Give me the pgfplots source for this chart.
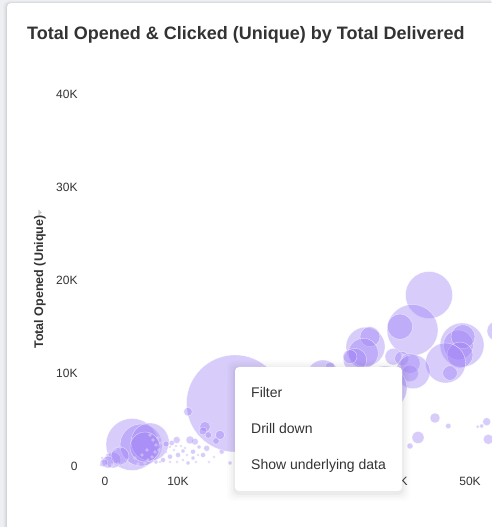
\documentclass[border=0pt]{standalone}
\usepackage{fontspec}
\setmainfont{Liberation Sans}
\usepackage{pgfplots}
\usepackage{pgfplotstable}
\pgfplotsset{compat=1.18}
\definecolor{bub}{RGB}{158,128,246}
\definecolor{txt}{RGB}{51,51,51}
\definecolor{bg}{RGB}{237,239,243}

\pgfplotstableread{
x y r
17809 6796 48.5
3699 2387 26
4932 2333 21
6164 2656 19
5480 2118 15
1096 720 8
411 505 6
-137 398 4
2055 1151 9
11370 5914 4.3
13699 4301 5.3
13425 3839 4
14151 3409 3.3
15754 3409 4.7
15206 2764 3.3
12329 2688 3.3
11644 2871 4
9822 2871 3.5
9137 2548 2.7
8356 2441 3
13932 1978 3
12055 1613 2.5
10685 1688 2
10000 1258 2.5
8904 1075 2.5
7945 720 2.5
6986 505 2
13425 1258 2.5
12055 935 2
11370 398 2
17123 398 2
15986 1613 2.5
12877 2118 2
44384 18461 23.5
42123 14699 25.5
40411 15054 12.7
48904 13086 22
48397 13086 15
49041 13979 12
48630 12011 13
46644 11151 20
47260 10075 7.3
35685 12904 19.5
36301 13979 10
35384 12194 15
34247 11473 11.7
33562 11828 7
39493 11828 8.3
40644 11656 7
41781 11118 10
41781 10043 8.3
42192 10215 17
38356 8463 22
29863 9753 16
30822 10720 5
53699 14592 10
45205 5237 5
47027 4377 2.7
42877 3140 6
41781 2226 3
52288 4839 4
51603 4377 2
51055 4301 1.7
52507 2946 5
}\bubbles

\pgfplotstableread{
x y r
6165 3409 1.3
6576 2871 1.3
6986 2333 1.3
7397 1796 1.3
7808 1258 1.3
6850 1581 1.3
6438 1043 1.3
5891 720 1.3
7260 3086 1.3
7671 2548 1.3
8082 2011 1.3
8356 1581 1.3
7534 505 1.3
5480 398 1.3
4521 290 1.3
3425 183 1.3
2603 290 1.3
1781 290 1.3
959 183 1.3
137 75 1.3
-548 183 1.3
685 1581 1.3
1370 1903 1.3
-411 936 1.3
274 1258 1.3
8219 3409 1.3
8630 2871 1.3
8904 2118 1.3
9452 1796 1.3
9726 2226 1.3
10411 2226 1.3
10959 2011 1.3
8904 505 1.3
9863 505 1.3
10685 720 1.3
12466 505 1.3
14247 505 1.3
14932 1043 1.3
12740 1258 1.3
11233 1258 1.3
5754 1796 1.3
5069 1258 1.3
4110 936 1.3
2986 720 1.3
2055 2118 1.3
}\tinydots

\begin{document}
\begin{tikzpicture}[x=1pt,y=1pt]
\useasboundingbox (0,0) rectangle (491,527);
\fill[bg] (0,0) rectangle (491,527);
\foreach \i/\o in {4/0.015,3/0.02,2/0.03,1/0.04}{\fill[black,opacity=\o,rounded corners=5pt] (7-\i,-20) rectangle (560,524+\i*0.5);}
\fill[white,rounded corners=4pt] (7,-20) rectangle (560,524);
\node[anchor=base west, font=\bfseries\fontsize{18}{20}\selectfont, text=txt, inner sep=0] at (27,487) {Total Opened \& Clicked (Unique) by Total Delivered};
\node[rotate=90, font=\bfseries\fontsize{12.5}{14}\selectfont, text=txt, inner sep=0] at (40,245) {Total Opened (Unique)};
\fill[black!22] (38.3,317.7) -- (41.8,314.5) -- (38.3,311.3) -- cycle;

\begin{axis}[at={(83.1pt,46.35pt)}, anchor=south west, scale only axis,
  width=408.8pt, height=413.85pt,
  xmin=-3000, xmax=53000, ymin=-1500, ymax=43000,
  axis line style={draw=none}, tick style={draw=none}, major tick length=0pt,
  scaled ticks=false,
  xtick={0,10000,20000,30000,40000,50000}, xticklabels={0,10K,20K,30K,40K,50K},
  ytick={0,10000,20000,30000,40000}, yticklabels={0,10K,20K,30K,40K},
  ticklabel style={font=\fontsize{12}{14}\selectfont, text=txt},
  xticklabel style={yshift=7pt}, yticklabel style={xshift=-2pt},
  clip=false]
\addplot[scatter, only marks, mark=*,
  scatter/use mapped color={draw=white, fill=bub, fill opacity=0.4, draw opacity=0.7, line width=0.35pt},
  visualization depends on={\thisrow{r} \as \perpointmarksize},
  scatter/@pre marker code/.append style={/tikz/mark size=\perpointmarksize pt}]
  table[x=x,y=y] {\bubbles};
\addplot[scatter, only marks, mark=*,
  scatter/use mapped color={draw=white, fill=bub, fill opacity=0.45, draw opacity=0.8, line width=0.3pt},
  visualization depends on={\thisrow{r} \as \perpointmarksize},
  scatter/@pre marker code/.append style={/tikz/mark size=\perpointmarksize pt}]
  table[x=x,y=y] {\tinydots};
\end{axis}

\foreach \i/\o in {8/0.01,6/0.015,4/0.02,2/0.03}{\fill[black,opacity=\o,rounded corners=6pt] (235-\i,36-\i-2) rectangle (402+\i,160+\i-1.5);}
\fill[white,rounded corners=4pt] (235,36) rectangle (402,160);
\begin{scope}[every node/.style={anchor=base west, font=\fontsize{14}{16}\selectfont, text=txt, inner sep=0}]
\node at (251,129) {Filter};
\node at (251,93) {Drill down};
\node at (251,57) {Show underlying data};
\end{scope}
\end{tikzpicture}
\end{document}
